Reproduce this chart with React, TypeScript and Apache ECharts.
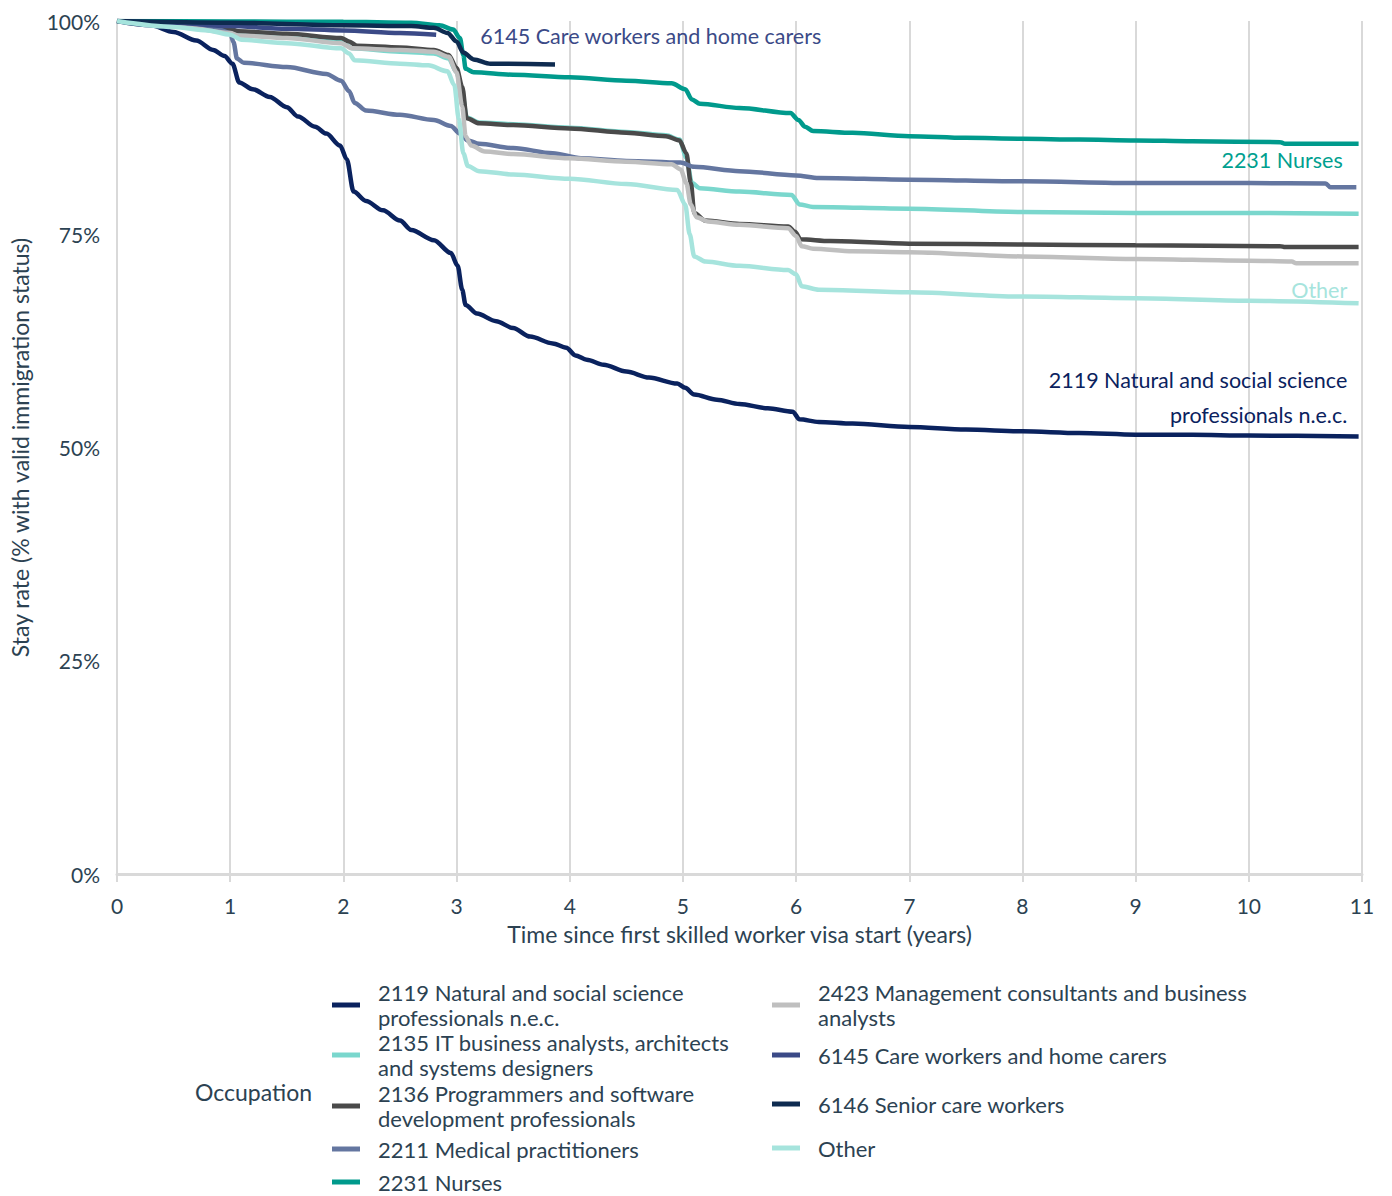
import React, { useEffect, useRef } from "react";
import * as echarts from "echarts";

// ---- Data (years since visa start, stay rate %) ----
const s2119: number[][] = [
  [0, 100], [0.3, 99.5], [0.5, 98.7], [0.7, 97.7], [0.85, 96.6], [0.95, 95.9], [1.02, 95.0], [1.08, 92.8],
  [1.2, 92.0], [1.35, 91.1], [1.5, 89.9], [1.6, 88.8], [1.75, 87.6], [1.85, 86.8], [1.97, 85.4], [2.03, 83.8],
  [2.09, 80.0], [2.2, 78.9], [2.35, 77.8], [2.5, 76.6], [2.6, 75.5], [2.8, 74.3], [2.95, 72.8], [3.01, 71.3],
  [3.05, 68.5], [3.08, 66.7], [3.18, 65.7], [3.35, 64.8], [3.5, 64.0], [3.65, 63.0], [3.85, 62.2], [3.97, 61.7],
  [4.05, 60.8], [4.15, 60.3], [4.3, 59.7], [4.5, 58.9], [4.7, 58.2], [4.95, 57.5], [5.02, 57.0], [5.1, 56.2],
  [5.3, 55.6], [5.5, 55.1], [5.75, 54.6], [5.97, 54.2], [6.03, 53.3], [6.2, 53.0], [6.5, 52.8], [7, 52.4],
  [7.5, 52.1], [8, 51.9], [8.5, 51.7], [9, 51.5], [9.5, 51.5], [10, 51.4], [10.97, 51.3],
];
const s2135: number[][] = [
  [0, 100], [0.5, 99.4], [1, 98.7], [1.07, 98.5], [1.5, 98.2], [1.98, 97.6], [2.08, 96.8], [2.5, 96.4],
  [2.8, 96.2], [2.93, 95.6], [3.0, 94.0], [3.05, 91.5], [3.09, 88.7], [3.2, 88.1], [3.5, 87.9], [4, 87.5],
  [4.5, 87.0], [4.85, 86.6], [4.97, 86.1], [5.03, 84.0], [5.08, 81.0], [5.15, 80.4], [5.5, 80.0], [5.96, 79.6],
  [6.03, 78.5], [6.15, 78.2], [7, 78.0], [8, 77.6], [9, 77.5], [10, 77.5], [10.97, 77.4],
];
const s2136: number[][] = [
  [0, 100], [0.5, 99.6], [1, 99.1], [1.07, 98.8], [1.5, 98.5], [1.98, 98.0], [2.05, 97.6], [2.12, 97.1],
  [2.5, 96.9], [2.8, 96.6], [2.93, 96.0], [3.0, 94.5], [3.05, 92.3], [3.09, 88.6], [3.2, 88.0], [3.5, 87.8],
  [4, 87.4], [4.5, 86.9], [4.85, 86.5], [4.97, 86.0], [5.03, 84.5], [5.07, 81.0], [5.1, 77.5], [5.2, 76.6],
  [5.5, 76.2], [5.93, 75.9], [5.99, 75.3], [6.04, 74.4], [6.3, 74.2], [7, 73.9], [8, 73.8], [9, 73.7],
  [10.28, 73.6], [10.32, 73.5], [10.97, 73.5],
];
const s2211: number[][] = [
  [0, 100], [0.5, 99.6], [0.9, 99.0], [1.0, 98.6], [1.03, 97.5], [1.06, 95.6], [1.12, 95.1], [1.5, 94.6],
  [1.85, 93.8], [1.98, 93.0], [2.05, 91.8], [2.1, 90.4], [2.2, 89.5], [2.5, 89.0], [2.8, 88.4], [2.95, 87.7],
  [3.03, 86.8], [3.1, 86.0], [3.2, 85.6], [3.5, 85.1], [3.85, 84.5], [4.1, 83.9], [4.5, 83.6], [4.98, 83.4],
  [5.1, 82.9], [5.5, 82.4], [6, 81.9], [6.2, 81.6], [7, 81.4], [8, 81.2], [9, 81.0], [10, 81.0],
  [10.68, 80.95], [10.72, 80.5], [10.95, 80.5],
];
const s2231: number[][] = [
  [0, 100], [1, 99.95], [2, 99.9], [2.6, 99.8], [2.85, 99.5], [2.97, 99.0], [3.03, 98.0], [3.06, 96.0],
  [3.08, 94.4], [3.15, 94.0], [3.5, 93.7], [4, 93.4], [4.5, 93.0], [4.9, 92.7], [5.02, 92.0], [5.08, 90.8],
  [5.15, 90.3], [5.5, 89.8], [5.95, 89.2], [6.02, 88.4], [6.08, 87.6], [6.15, 87.1], [6.5, 86.9], [7, 86.5],
  [7.5, 86.3], [8, 86.2], [8.5, 86.1], [9, 86.0], [9.5, 85.9], [10.28, 85.8], [10.32, 85.6], [10.97, 85.6],
];
const s2423: number[][] = [
  [0, 100], [0.5, 99.5], [1, 98.6], [1.07, 98.3], [1.5, 98.0], [1.98, 97.4], [2.08, 96.8], [2.5, 96.6],
  [2.8, 96.4], [2.93, 95.8], [3.0, 94.0], [3.05, 90.0], [3.08, 86.5], [3.13, 85.4], [3.25, 84.7], [3.5, 84.4],
  [4, 83.9], [4.5, 83.5], [4.9, 83.2], [4.98, 82.6], [5.03, 81.0], [5.07, 78.5], [5.12, 77.0], [5.22, 76.5],
  [5.5, 76.1], [5.93, 75.7], [6.0, 74.8], [6.05, 73.6], [6.15, 73.3], [6.5, 73.0], [7, 72.9], [8, 72.4],
  [9, 72.1], [10, 71.9], [10.38, 71.8], [10.42, 71.6], [10.97, 71.6],
];
const s6145: number[][] = [
  [0, 100], [0.5, 99.8], [1, 99.4], [1.5, 99.1], [2, 98.9], [2.5, 98.6], [2.82, 98.4],
];
const s6146: number[][] = [
  [0, 100], [1, 99.8], [2, 99.5], [2.6, 99.4], [2.8, 99.2], [2.92, 98.6], [3.0, 97.6], [3.06, 96.3],
  [3.15, 95.5], [3.3, 95.0], [3.87, 94.9],
];
const sOther: number[][] = [
  [0, 100], [0.5, 99.3], [0.8, 98.9], [1.0, 98.4], [1.1, 97.8], [1.5, 97.4], [1.98, 96.8], [2.05, 96.2],
  [2.1, 95.4], [2.5, 95.0], [2.75, 94.8], [2.92, 94.1], [2.98, 92.5], [3.02, 88.5], [3.06, 84.5], [3.1, 83.0],
  [3.2, 82.4], [3.5, 82.0], [4, 81.5], [4.5, 80.9], [4.95, 80.2], [5.02, 78.5], [5.06, 75.0], [5.1, 72.4],
  [5.2, 71.8], [5.5, 71.3], [5.93, 70.8], [6.0, 70.3], [6.05, 68.9], [6.2, 68.5], [7, 68.2], [8, 67.7],
  [9, 67.5], [10, 67.2], [10.97, 66.9],
];

const seriesNames = [
  "2119 Natural and social science\nprofessionals n.e.c.",
  "2135 IT business analysts, architects\nand systems designers",
  "2136 Programmers and software\ndevelopment professionals",
  "2211 Medical practitioners",
  "2231 Nurses",
  "2423 Management consultants and business\nanalysts",
  "6145 Care workers and home carers",
  "6146 Senior care workers",
  "Other",
];
const seriesData = [s2119, s2135, s2136, s2211, s2231, s2423, s6145, s6146, sOther];
const seriesColors = [
  "#0a225e", "#7ad7cd", "#4a4a4a", "#6476a0", "#009a8c", "#bfbfbf", "#3b4a87", "#0e2b50", "#a6e4dd",
];

const xTicks = { min: 0, max: 11, interval: 1 };
const yTicks = { min: 0, max: 100, interval: 25 };

const annotations = [
  { text: "6145 Care workers and home carers", t: 3.21, v: 98.2, align: "left", color: "#3b4a87" },
  { text: "2231 Nurses", t: 10.83, v: 83.7, align: "right", color: "#00a08f" },
  { text: "Other", t: 10.87, v: 68.5, align: "right", color: "#a6e4dd" },
  { text: "2119 Natural and social science\nprofessionals n.e.c.", t: 10.87, v: 55.86, align: "right", color: "#0a225e" },
];

// legend layout: [left, top, lineHeight] for each item
const legendPos = [
  [332, 980, 25], [332, 1030, 25], [332, 1081, 25], [332, 1137, 24], [332, 1171, 22],
  [772, 980, 25], [772, 1043, 24], [772, 1092, 24], [772, 1136, 24],
];

const FONT = "Lato, 'Open Sans', sans-serif";
const TEXT = "#2c4252";

export default function App() {
  const ref = useRef<HTMLDivElement>(null);
  useEffect(() => {
    if (!ref.current) return;
    const chart = echarts.init(ref.current, undefined, { renderer: "svg" });
    const option: any = {
      animation: false,
      textStyle: { fontFamily: FONT },
      grid: { left: 113, right: 30, top: 21, bottom: 322, containLabel: false },
      xAxis: {
        type: "value",
        min: xTicks.min,
        max: xTicks.max,
        interval: xTicks.interval,
        name: "Time since first skilled worker visa start (years)",
        nameLocation: "middle",
        nameGap: 48,
        nameTextStyle: { fontSize: 23, color: TEXT, fontFamily: FONT },
        axisLine: { show: true, lineStyle: { color: "#d9d9d9", width: 3 } },
        axisTick: { show: true, length: 8, lineStyle: { color: "#d9d9d9", width: 2 } },
        axisLabel: { fontSize: 21, color: TEXT, margin: 21, fontFamily: FONT },
        splitLine: { show: true, lineStyle: { color: "#d9d9d9", width: 2 } },
      },
      yAxis: {
        type: "value",
        min: yTicks.min,
        max: yTicks.max,
        interval: yTicks.interval,
        name: "Stay rate (% with valid immigration status)",
        nameLocation: "middle",
        nameGap: 86,
        nameTextStyle: { fontSize: 23, color: TEXT, fontFamily: FONT },
        axisLine: { show: true, lineStyle: { color: "#d9d9d9", width: 2 } },
        axisTick: { show: false },
        axisLabel: { fontSize: 21, color: TEXT, margin: 17, formatter: "{value}%", fontFamily: FONT },
        splitLine: { show: false },
      },
      legend: seriesNames.map((n, i) => ({
        data: [n],
        left: legendPos[i][0],
        top: legendPos[i][1],
        orient: "vertical",
        padding: 0,
        icon: "rect",
        itemWidth: 28,
        itemHeight: 5,
        selectedMode: false,
        textStyle: {
          fontSize: 22,
          color: TEXT,
          lineHeight: legendPos[i][2],
          fontFamily: FONT,
          padding: [0, 0, 0, 13],
        },
      })),
      series: seriesNames.map((n, i) => ({
        name: n,
        type: "line",
        data: seriesData[i],
        showSymbol: false,
        symbol: "none",
        smooth: 0.3,
        smoothMonotone: "x",
        lineStyle: { color: seriesColors[i], width: 4.5 },
        itemStyle: { color: seriesColors[i] },
        z: 2 + i,
      })),
    };
    chart.setOption(option);
    const graphics: any[] = annotations.map((a) => {
      const p = chart.convertToPixel({ gridIndex: 0 } as any, [a.t, a.v]) as number[];
      return {
        type: "text",
        x: p[0],
        y: p[1],
        z: 100,
        style: {
          text: a.text,
          fill: a.color,
          fontSize: 21.5,
          fontFamily: FONT,
          lineHeight: 35,
          align: a.align,
          verticalAlign: "middle",
        },
      };
    });
    graphics.push({
      type: "text",
      left: 195,
      top: 1080,
      style: { text: "Occupation", fill: TEXT, fontSize: 23, fontFamily: FONT },
    });
    chart.setOption({ graphic: graphics });
    return () => chart.dispose();
  }, []);
  return (
    <div
      ref={ref}
      style={{ position: "absolute", left: 0, top: 0, width: 1392, height: 1196 }}
    />
  );
}
